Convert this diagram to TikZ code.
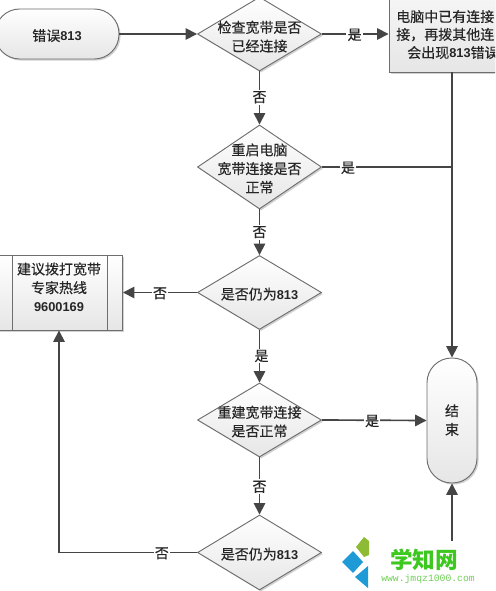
\documentclass[tikz,border=0pt]{standalone}
\usepackage{fontspec}
\setmainfont{Noto Sans CJK SC}[FakeBold=0.35]
\newfontfamily\numfont{Liberation Sans}
\newfontfamily\wwwfont{Liberation Mono}
\newfontfamily\wmfont{Noto Sans CJK SC}
\usetikzlibrary{shapes.geometric,arrows.meta,shadows}
\definecolor{linec}{HTML}{454545}
\definecolor{edgec}{HTML}{6E6E6E}
\definecolor{boxlow}{HTML}{E6E6E6}
\definecolor{wmgreen}{HTML}{3CC81E}
\definecolor{wmlight}{HTML}{6FCF55}
\definecolor{wmleaf}{HTML}{8DBB35}
\definecolor{wmblue}{HTML}{1E9AD6}
\newcommand{\nm}[1]{{\numfont\bfseries\fontsize{9.6pt}{12pt}\selectfont #1}}
\tikzset{
  x=0.75pt,y=-0.75pt,
  surface/.style={draw=edgec,line width=0.7pt,top color=white,bottom color=boxlow,
    drop shadow={shadow xshift=1.2pt,shadow yshift=-1.2pt,opacity=0.18,fill=black}},
  dia/.style={surface,shape=diamond,inner sep=0pt,minimum width=93pt,aspect=1.6},
  proc/.style={surface,rectangle,inner sep=0pt},
  pill/.style={surface,rectangle,rounded corners=18.5pt,inner sep=0pt},
  txt/.style={font=\fontsize{10.5pt}{14pt}\selectfont,align=center,inner sep=0pt,text=black!85,yshift=-1.2pt},
  conn/.style={draw=linec,line width=1.25pt},
  arrow/.style={conn,-{Triangle[length=8.5pt,width=8.5pt]}},
  lab/.style={txt,fill=white,inner sep=1pt,yshift=0.6pt},
}
\begin{document}
\begin{tikzpicture}
\clip (0,0) rectangle (495,591);
\fill[white] (0,0) rectangle (495,591);

% shapes
\node[pill,minimum width=93pt,minimum height=37.5pt] (start) at (57,34) {};
\node[dia,minimum height=55.5pt] (d1) at (259.5,34) {};
\node[proc,minimum width=94.5pt,minimum height=91.5pt] (box) at (452,11) {};
\node[dia,minimum height=63pt] (d2) at (259.5,167) {};
\node[dia,minimum height=55.5pt] (d3) at (259.5,292.5) {};
\node[proc,minimum width=95.25pt,minimum height=56.25pt] (sub) at (59,292.5) {};
\coordinate (subla) at (12,255);
\coordinate (sublb) at (12,330);
\coordinate (subra) at (107,255);
\coordinate (subrb) at (107,330);
\draw[edgec,line width=0.7pt] (subla) -- (sublb) (subra) -- (subrb);
\node[dia,minimum height=55.5pt] (d4) at (259.5,420) {};
\node[dia,minimum height=56.25pt] (d5) at (259.5,552.5) {};
\node[pill,minimum width=37.5pt,minimum height=93.75pt] (endn) at (452,420.5) {};
\coordinate (belowend) at (452,600);

% connectors
\draw[arrow] (start.east) -- (d1.west);
\draw[arrow] (d1.east) -- node[lab,pos=0.49] {是} (box.west |- d1.east);
\draw[arrow] (d1.south) -- node[lab,pos=0.47] {否} (d2.north);
\draw[conn] (d2.east) -- node[lab,pos=0.20] {是} (d2.east -| box.south);
\draw[arrow] (box.south) -- (endn.north);
\draw[arrow] (d2.south) -- node[lab,pos=0.48] {否} (d3.north);
\draw[arrow] (d3.west) -- node[lab,pos=0.50] {否} (sub.east);
\draw[arrow] (d3.south) -- node[lab,pos=0.48,xshift=1.5pt] {是} (d4.north);
\draw[arrow] (d4.east) -- node[lab,pos=0.48] {是} (endn.west);
\draw[arrow] (d4.south) -- node[lab,pos=0.50] {否} (d5.north);
\draw[arrow] (d5.west) -- node[lab,pos=0.255] {否} (d5.west -| sub.south) -- (sub.south);
\draw[arrow] (belowend) -- (endn.south);

% texts
\node[txt] (t0) at (57,34) {错误\nm{813}};
\node[txt] (t1) at (259.5,35) {检查宽带是否\\已经连接};
\node[txt,anchor=west] (t2a) at (396,15) {电脑中已有连接};
\node[txt,anchor=west] (t2b) at (396,33) {接，再拨其他连};
\node[txt,anchor=west] (t2c) at (407,51) {会出现\nm{813}错误};
\node[txt] (t3) at (259.5,167) {重启电脑\\宽带连接是否\\正常};
\node[txt] (t4) at (259.5,292.5) {是否仍为\nm{813}};
\node[txt] (t5) at (59,285.5) {建议拨打宽带\\专家热线\\\nm{9600169}};
\node[txt] (t6) at (259.5,420) {重建宽带连接\\是否正常};
\node[txt] (t7) at (259.5,552.5) {是否仍为\nm{813}};
\node[txt] (t8) at (452,418.5) {结\\束};

% watermark
\fill[white] (369,541) rectangle (495,591);
\fill[wmleaf] (364,537) -- (369,541) -- (369,555) -- (364,557) -- (356,547) -- cycle;
\fill[wmblue] (353,551) -- (363,562) -- (353,573) -- (342,562) -- cycle;
\fill[wmblue] (368,566) -- (368,588) -- (355,577) -- cycle;
\node[inner sep=0pt,text=wmgreen,font=\wmfont\fontsize{17pt}{19pt}\selectfont\bfseries] (wm1) at (424,560) {学知网};
\node[inner sep=0pt,text=wmlight,font=\wwwfont\fontsize{7.3pt}{9pt}\selectfont] (wm2) at (428,579) {www.jmqz1000.com};
\end{tikzpicture}
\end{document}
